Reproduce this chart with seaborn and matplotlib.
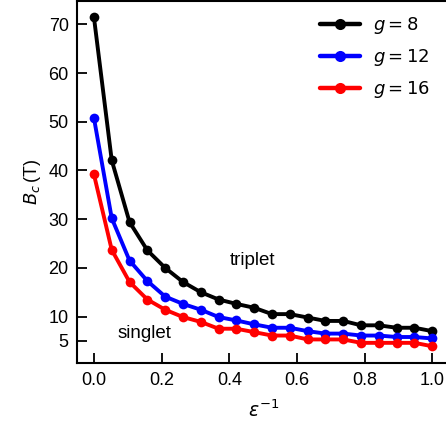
import numpy as np
import pandas as pd
import matplotlib
matplotlib.use("Agg")
import matplotlib.pyplot as plt
import seaborn as sns

# ---- data ----
x_vals = list(np.linspace(0, 1, 20))
g_labels = ["$g = 8$", "$g = 12$", "$g = 16$"]
b_g8 = [71.5, 42.1, 29.4, 23.6, 20.0, 17.1, 15.0, 13.5, 12.6, 11.8,
        10.5, 10.5, 9.8, 9.1, 9.1, 8.2, 8.2, 7.7, 7.7, 7.0]
b_g12 = [50.8, 30.2, 21.5, 17.3, 14.1, 12.6, 11.4, 9.9, 9.2, 8.4,
         7.7, 7.7, 7.0, 6.5, 6.5, 6.1, 6.1, 5.8, 5.8, 5.5]
b_g16 = [39.2, 23.7, 17.1, 13.5, 11.4, 9.9, 8.9, 7.5, 7.5, 6.8,
         6.1, 6.1, 5.3, 5.3, 5.3, 4.6, 4.6, 4.6, 4.6, 3.9]
colors = ["black", "blue", "red"]
x_ticks = [0.0, 0.2, 0.4, 0.6, 0.8, 1.0]
y_ticks = [5, 10, 20, 30, 40, 50, 60, 70]

rows = []
for lab, ys in zip(g_labels, [b_g8, b_g12, b_g16]):
    for xv, yv in zip(x_vals, ys):
        rows.append({"x": xv, "B": yv, "g": lab})
df = pd.DataFrame(rows)

sns.set_style("ticks", {"text.color": "black", "axes.labelcolor": "black",
                        "xtick.color": "black", "ytick.color": "black",
                        "axes.edgecolor": "black"})
plt.rcParams["font.family"] = ["Liberation Sans", "DejaVu Sans"]
plt.rcParams["mathtext.fontset"] = "dejavusans"

fig = plt.figure(figsize=(4.46, 4.24), dpi=100)
ax = fig.add_axes([77 / 446, (424 - 363.3) / 424, 372.2 / 446, 362.3 / 424])

sns.lineplot(data=df, x="x", y="B", hue="g", palette=colors, marker="o",
             markersize=7, markeredgewidth=0, linewidth=2.8, ax=ax,
             sort=False, estimator=None)

ax.set_xlim(-0.05, 1.05)
ax.set_ylim(0.4, 74.8)
ax.set_xticks(x_ticks)
ax.set_xticklabels([f"{t:.1f}" for t in x_ticks])
ax.set_yticks(y_ticks)
ax.tick_params(direction="in", length=7, width=1.3, labelsize=13, pad=6,
               colors="black")
for s in ax.spines.values():
    s.set_linewidth(1.5)
    s.set_visible(True)
    s.set_color("black")

ax.set_xlabel(r"$\epsilon^{-1}$", fontsize=13.5, labelpad=8)
ax.set_ylabel(r"$B_c\,$(T)", fontsize=13, labelpad=4)

ax.text(0.47, 21.5, "triplet", fontsize=13.5, ha="center", va="center")
ax.text(0.15, 6.6, "singlet", fontsize=13.5, ha="center", va="center")

leg = ax.legend(title=None, frameon=False, fontsize=13, handlelength=2.2,
                loc="upper left", bbox_to_anchor=(0.62, 0.995),
                borderaxespad=0.3, labelspacing=0.6, handletextpad=0.7)
for t in leg.get_texts():
    t.set_color("black")
for h in leg.get_lines():
    h.set_linewidth(3.2)
    h.set_markersize(8)

fig.savefig("out.png", dpi=100)
